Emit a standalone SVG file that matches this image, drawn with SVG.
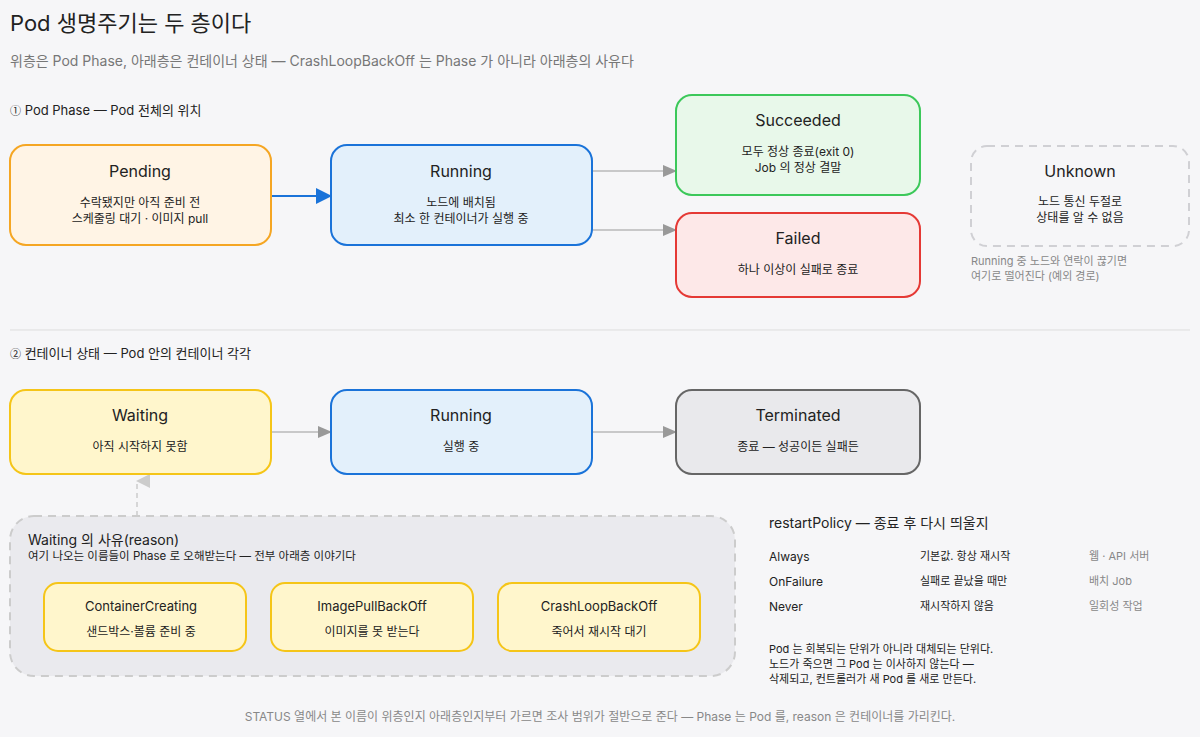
<svg xmlns="http://www.w3.org/2000/svg" width="1200" height="737" viewBox="0 0 1200 737">
<style>
text{font-family:Inter,"Noto Sans CJK KR",sans-serif;fill:#222}
.t{font-size:16px;text-anchor:middle}
.s{font-size:12px;text-anchor:middle}
.g{fill:#888}
.sub{fill:#777}
.sec{font-size:13px}
.box{stroke-width:2}
.c{font-size:11px;font-family:"Noto Sans CJK KR",sans-serif}
</style>
<defs>
<marker id="ag" markerWidth="14" markerHeight="14" refX="13" refY="7" orient="auto" markerUnits="userSpaceOnUse" viewBox="0 0 14 14"><path d="M0,1L14,7L0,13z" fill="#999"/></marker>
<marker id="ab" markerWidth="16" markerHeight="16" refX="15" refY="8" orient="auto" markerUnits="userSpaceOnUse" viewBox="0 0 16 16"><path d="M0,0L16,8L0,16z" fill="#1a73d9"/></marker>
<marker id="al" markerWidth="14" markerHeight="14" refX="7" refY="1" orient="auto-start-reverse" markerUnits="userSpaceOnUse" viewBox="0 0 14 14"><path d="M7,0L14,14L0,14z" fill="#ccc"/></marker>
</defs>
<rect width="1200" height="737" fill="#f6f6f8"/>
<text x="10" y="31" font-size="22">Pod 생명주기는 두 층이다</text>
<text x="10" y="66" font-size="14" class="sub">위층은 Pod Phase, 아래층은 컨테이너 상태 — CrashLoopBackOff 는 Phase 가 아니라 아래층의 사유다</text>
<text x="10" y="115" class="sec"><tspan class="c">①</tspan> Pod Phase — Pod 전체의 위치</text>
<g id="connectors" fill="none">
<line x1="271" y1="196" x2="331" y2="196" stroke="#1a73d9" stroke-width="2" marker-end="url(#ab)"/>
<line x1="592" y1="171" x2="676" y2="171" stroke="#999" stroke-width="1.2" marker-end="url(#ag)"/>
<line x1="592" y1="230" x2="676" y2="230" stroke="#999" stroke-width="1.2" marker-end="url(#ag)"/>
<line x1="271" y1="432" x2="331" y2="432" stroke="#999" stroke-width="1.2" marker-end="url(#ag)"/>
<line x1="592" y1="432" x2="676" y2="432" stroke="#999" stroke-width="1.2" marker-end="url(#ag)"/>
<line x1="137" y1="516" x2="137" y2="481" stroke="#ccc" stroke-width="1.5" stroke-dasharray="5 4" marker-end="url(#al)"/>
</g>
<g id="pending"><rect x="10" y="145" width="261" height="100" rx="16" fill="#fff4e5" stroke="#f5a623" class="box"/>
<text x="140" y="177" class="t">Pending</text><text x="140" y="207" class="s">수락됐지만 아직 준비 전</text><text x="140" y="223" class="s">스케줄링 대기 · 이미지 pull</text></g>
<g id="running"><rect x="331" y="145" width="261" height="100" rx="16" fill="#e3f0fb" stroke="#1a73d9" class="box"/>
<text x="461" y="177" class="t">Running</text><text x="461" y="207" class="s">노드에 배치됨</text><text x="461" y="223" class="s">최소 한 컨테이너가 실행 중</text></g>
<g id="succeeded"><rect x="676" y="95" width="244" height="100" rx="16" fill="#e8f8ea" stroke="#3cc85a" class="box"/>
<text x="798" y="126" class="t">Succeeded</text><text x="798" y="156" class="s">모두 정상 종료(exit 0)</text><text x="798" y="172" class="s">Job 의 정상 결말</text></g>
<g id="failed"><rect x="676" y="213" width="244" height="84" rx="16" fill="#fde8e8" stroke="#e53935" class="box"/>
<text x="798" y="244" class="t">Failed</text><text x="798" y="274" class="s">하나 이상이 실패로 종료</text></g>
<g id="unknown"><rect x="971" y="146" width="218" height="100" rx="16" fill="none" stroke="#d0d0d4" stroke-dasharray="8 6" class="box"/>
<text x="1080" y="177" class="t">Unknown</text><text x="1080" y="206" class="s">노드 통신 두절로</text><text x="1080" y="222" class="s">상태를 알 수 없음</text></g>
<text x="971" y="265" font-size="11" class="g">Running 중 노드와 연락이 끊기면</text>
<text x="971" y="280" font-size="11" class="g">여기로 떨어진다 (예외 경로)</text>
<line x1="10" y1="330" x2="1190" y2="330" stroke="#ddd"/>
<text x="10" y="358" class="sec"><tspan class="c">②</tspan> 컨테이너 상태 — Pod 안의 컨테이너 각각</text>
<g id="waiting"><rect x="10" y="390" width="261" height="84" rx="16" fill="#fff6cc" stroke="#f5c518" class="box"/>
<text x="140" y="421" class="t">Waiting</text><text x="140" y="451" class="s">아직 시작하지 못함</text></g>
<g id="crunning"><rect x="331" y="390" width="261" height="84" rx="16" fill="#e3f0fb" stroke="#1a73d9" class="box"/>
<text x="461" y="421" class="t">Running</text><text x="461" y="451" class="s">실행 중</text></g>
<g id="terminated"><rect x="676" y="390" width="244" height="84" rx="16" fill="#e9e9ec" stroke="#666" class="box"/>
<text x="798" y="421" class="t">Terminated</text><text x="798" y="451" class="s">종료 — 성공이든 실패든</text></g>
<g id="reasons"><rect x="10" y="516" width="725" height="160" rx="24" fill="#eaeaee" stroke="#ccc" stroke-dasharray="8 6" class="box"/>
<text x="28" y="545" font-size="14">Waiting 의 사유(reason)</text>
<text x="28" y="560" font-size="11.5">여기 나오는 이름들이 Phase 로 오해받는다 — 전부 아래층 이야기다</text></g>
<g id="containercreating"><rect x="44" y="583" width="202" height="68" rx="14" fill="#fff6cc" stroke="#f5c518" class="box"/>
<text x="141" y="611" font-size="13" text-anchor="middle">ContainerCreating</text><text x="141" y="636" class="s">샌드박스·볼륨 준비 중</text></g>
<g id="imagepullbackoff"><rect x="271" y="583" width="202" height="68" rx="14" fill="#fff6cc" stroke="#f5c518" class="box"/>
<text x="372" y="611" font-size="13" text-anchor="middle">ImagePullBackOff</text><text x="372" y="636" class="s">이미지를 못 받는다</text></g>
<g id="crashloopbackoff"><rect x="498" y="583" width="202" height="68" rx="14" fill="#fff6cc" stroke="#f5c518" class="box"/>
<text x="599" y="611" font-size="13" text-anchor="middle">CrashLoopBackOff</text><text x="599" y="636" class="s">죽어서 재시작 대기</text></g>
<g font-size="12">
<text x="769" y="528" font-size="14">restartPolicy — 종료 후 다시 띄울지</text>
<text x="769" y="561">Always</text><text x="920" y="560" font-size="11">기본값. 항상 재시작</text><text x="1089" y="560" font-size="11" class="g">웹 · API 서버</text>
<text x="769" y="586">OnFailure</text><text x="920" y="585" font-size="11">실패로 끝났을 때만</text><text x="1089" y="585" font-size="11" class="g">배치 Job</text>
<text x="769" y="611">Never</text><text x="920" y="610" font-size="11">재시작하지 않음</text><text x="1089" y="610" font-size="11" class="g">일회성 작업</text>
<text x="769" y="653" font-size="11">Pod 는 회복되는 단위가 아니라 대체되는 단위다.</text>
<text x="769" y="668" font-size="11">노드가 죽으면 그 Pod 는 이사하지 않는다 —</text>
<text x="769" y="683" font-size="11">삭제되고, 컨트롤러가 새 Pod 를 새로 만든다.</text>
</g>
<text x="600" y="721" font-size="12" text-anchor="middle" class="g">STATUS 열에서 본 이름이 위층인지 아래층인지부터 가르면 조사 범위가 절반으로 준다 — Phase 는 Pod 를, reason 은 컨테이너를 가리킨다.</text>
</svg>
